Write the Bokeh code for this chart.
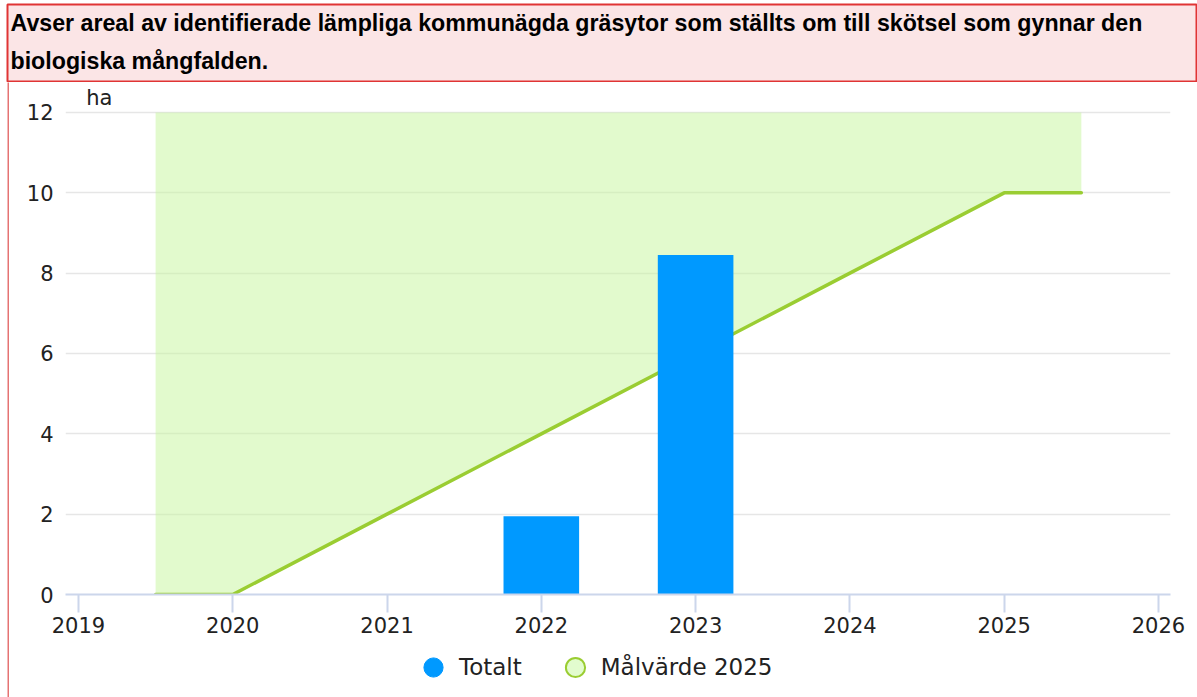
from bokeh.plotting import figure
from bokeh.models import Legend, LegendItem, FixedTicker, Range1d
from bokeh.layouts import column, row
from bokeh.core.properties import value
from bokeh.embed import file_html
from bokeh.resources import INLINE

# ---- data ----
title_lines = ["Avser areal av identifierade lämpliga kommunägda gräsytor som ställts om till skötsel som gynnar den",
               "biologiska mångfalden."]
unit_label = "ha"
bar_years = [2022, 2023]
bar_values = [1.95, 8.45]
target_years = [2019.5, 2020, 2021, 2022, 2023, 2024, 2025, 2025.5]
target_values = [0, 0, 2, 4, 6, 8, 10, 10]
band_top = 12
x_ticks = [2019, 2020, 2021, 2022, 2023, 2024, 2025, 2026]
y_ticks = [0, 2, 4, 6, 8, 10, 12]
series_names = ["Totalt", "Målvärde 2025"]

W = 1197
TITLE_H = 82
STRIP_W = 9
MAIN_H = 557
LEG_H = 58
TICK_FONT = "DejaVu Sans"

def bare(fig):
    fig.xaxis.visible = False
    fig.yaxis.visible = False
    fig.xgrid.visible = False
    fig.ygrid.visible = False
    return fig

# ---- title box ----
tf_w, tf_h = W - 7, TITLE_H - 4 - 1
tf = figure(width=W, height=TITLE_H, output_backend="svg", toolbar_location=None,
            x_range=Range1d(0, tf_w), y_range=Range1d(tf_h, 0),
            min_border_left=7, min_border_right=0, min_border_top=4, min_border_bottom=1)
bare(tf)
tf.background_fill_color = "#fbe5e6"
tf.border_fill_color = "#ffffff"
tf.outline_line_color = "#e03434"
tf.outline_line_width = 2
tf.text(x=[3, 3], y=[18, 56], text=title_lines, text_font=value("Liberation Sans"),
        text_font_style="bold", text_font_size="23.2px", text_color="#000000",
        text_baseline="middle", text_align="left")

# ---- left red strip ----
sf = figure(width=STRIP_W, height=MAIN_H + LEG_H, output_backend="svg", toolbar_location=None,
            min_border_left=7, min_border_right=0, min_border_top=0, min_border_bottom=0)
bare(sf)
sf.background_fill_color = "#e57373"
sf.border_fill_color = "#ffffff"
sf.outline_line_color = None

# ---- main chart ----
MW = W - STRIP_W
ytop = 12 + 30 / 40.17
p = figure(width=MW, height=MAIN_H, output_backend="svg", toolbar_location=None,
           x_range=Range1d(2018.916, 2026.078), y_range=Range1d(0, ytop),
           min_border_left=65 - STRIP_W, min_border_right=W - 1170, min_border_top=0,
           min_border_bottom=MAIN_H - 512)
p.outline_line_color = None
p.border_fill_color = "#ffffff"
p.xgrid.grid_line_color = None
p.ygrid.grid_line_color = "#e6e6e6"
p.ygrid.grid_line_width = 1.5
p.ygrid.ticker = FixedTicker(ticks=y_ticks)

p.xaxis.ticker = FixedTicker(ticks=x_ticks)
p.xaxis.axis_line_color = "#ccd6eb"
p.xaxis.axis_line_width = 2
p.xaxis.major_tick_line_color = "#ccd6eb"
p.xaxis.major_tick_line_width = 2
p.xaxis.major_tick_out = 18
p.xaxis.major_tick_in = 0
p.xaxis.minor_tick_line_color = None
p.xaxis.major_label_standoff = 4
p.xaxis.major_label_text_font = TICK_FONT
p.xaxis.major_label_text_font_size = "21px"
p.xaxis.major_label_text_color = "#222222"

p.yaxis.ticker = FixedTicker(ticks=y_ticks)
p.yaxis.axis_line_color = None
p.yaxis.major_tick_line_color = None
p.yaxis.minor_tick_line_color = None
p.yaxis.major_label_standoff = 6
p.yaxis.major_label_text_font = TICK_FONT
p.yaxis.major_label_text_font_size = "21px"
p.yaxis.major_label_text_color = "#222222"

p.varea(x=target_years, y1=target_values, y2=[band_top] * len(target_years),
        fill_color="#c5f59c", fill_alpha=0.5)
p.line(x=target_years, y=target_values, line_color="#9acd32", line_width=3.5,
       line_cap="round", line_join="round")
p.vbar(x=bar_years, top=bar_values, width=0.49, fill_color="#0099ff", line_color=None)
p.text(x=[2019.05], y=[12.36], text=[unit_label], text_font=value(TICK_FONT),
       text_font_size="21px", text_color="#222222", text_baseline="alphabetic")

# ---- legend strip (swatch renderers sit outside this strip's visible range) ----
lf = figure(width=MW, height=LEG_H, output_backend="svg", toolbar_location=None,
            x_range=Range1d(0, 1), y_range=Range1d(0, 1),
            min_border_left=0, min_border_right=0, min_border_top=0, min_border_bottom=0)
bare(lf)
lf.outline_line_color = None
lf.background_fill_color = "#ffffff"
lf.border_fill_color = "#ffffff"
r1 = lf.scatter(x=bar_years[:1], y=bar_values[:1], marker="circle", size=10,
                fill_color="#0099ff", line_color="#0099ff")
r2 = lf.scatter(x=target_years[-1:], y=target_values[-1:], marker="circle", size=10,
                fill_color="#e2fcce", line_color="#9acd32", line_width=2)
legend = Legend(items=[LegendItem(label=series_names[0], renderers=[r1]),
                       LegendItem(label=series_names[1], renderers=[r2])],
                orientation="horizontal", location=(344, 6),
                glyph_width=48, glyph_height=48, label_standoff=2, spacing=29,
                padding=0, margin=0, border_line_color=None, background_fill_alpha=0,
                label_text_font=TICK_FONT, label_text_font_size="23px",
                label_text_color="#222222")
lf.add_layout(legend)

layout = column(tf, row(sf, column(p, lf, spacing=0), spacing=0), spacing=0)
open("out.html", "w").write(file_html(layout, INLINE))
